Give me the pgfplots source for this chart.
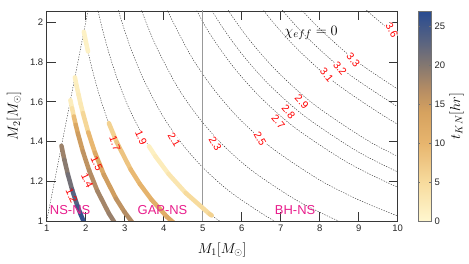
\documentclass[border=0pt]{standalone}
\usepackage{fontspec}
\setmainfont{Liberation Sans}
\usepackage{pgfplots}
\pgfplotsset{compat=1.18}
\pgfplotsset{/pgf/number format/assume math mode=true}
\definecolor{labred}{RGB}{255,0,0}
\definecolor{regpink}{RGB}{232,30,140}
\definecolor{axgray}{RGB}{55,55,55}
\newcommand{\clabels}[2]{%
  \begin{scope}[every node/.style={#1, font=\fontsize{10.5}{12}\selectfont, inner sep=0.4pt}]
  \node[rotate=-65] at (axis cs:1.64,1.126) {#2{1.2}};
  \node[rotate=-65] at (axis cs:2.04,1.205) {#2{1.4}};
  \node[rotate=-65] at (axis cs:2.28,1.289) {#2{1.5}};
  \node[rotate=-70] at (axis cs:2.75,1.39) {#2{1.7}};
  \node[rotate=-66] at (axis cs:3.42,1.42) {#2{1.9}};
  \node[rotate=-60] at (axis cs:4.27,1.41) {#2{2.1}};
  \node[rotate=-60] at (axis cs:5.32,1.39) {#2{2.3}};
  \node[rotate=-60] at (axis cs:6.47,1.415) {#2{2.5}};
  \node[rotate=-50] at (axis cs:6.94,1.50) {#2{2.7}};
  \node[rotate=-50] at (axis cs:7.20,1.55) {#2{2.8}};
  \node[rotate=-47] at (axis cs:7.54,1.60) {#2{2.9}};
  \node[rotate=-50] at (axis cs:8.18,1.734) {#2{3.1}};
  \node[rotate=-50] at (axis cs:8.52,1.768) {#2{3.2}};
  \node[rotate=-50] at (axis cs:8.86,1.81) {#2{3.3}};
  \node[rotate=-60] at (axis cs:9.85,1.961) {#2{3.6}};
  \end{scope}}
\begin{document}
\begin{tikzpicture}
\path[use as bounding box] (0,0) rectangle (469bp,264bp);
\begin{axis}[
  at={(46.7bp,43bp)}, anchor=south west,
  scale only axis, width=351bp, height=210bp,
  xmin=1, xmax=10, ymin=1, ymax=2.057,
  xtick={1,2,3,4,5,6,7,8,9,10}, ytick={1,1.2,1.4,1.6,1.8,2},
  tick align=inside, xtick pos=both, ytick pos=both, major tick length=9bp,
  axis line style={axgray, line width=0.6bp},
  every tick/.style={axgray, line width=0.6bp},
  tick label style={font=\fontsize{9.5}{11}\selectfont, text=black!85},
  xlabel={$M_1[M_\odot]$}, ylabel={$M_2[M_\odot]$},
  label style={font=\fontsize{14.5}{17}\selectfont},
  xlabel style={at={(axis description cs:0.5,-0.138)}, anchor=center},
  ylabel style={at={(axis description cs:-0.093,0.5)}, anchor=center},
  colormap={tkn}{[1pt] rgb255(0pt)=(255,247,207); rgb255(5pt)=(247,219,157); rgb255(10pt)=(231,181,110); rgb255(14pt)=(214,162,95); rgb255(17pt)=(180,140,100); rgb255(20pt)=(133,120,112); rgb255(23pt)=(90,100,128); rgb255(27pt)=(40,75,145)},
  point meta min=0, point meta max=27,
  colorbar,
  colorbar style={
    at={(parent axis.south east)}, anchor=south west, xshift=12.3bp,
    scale only axis, width=12.5bp, height=210bp,
    ytick={0,5,10,15,20,25},
    major tick length=2bp,
    axis line style={black!55, line width=0.5bp},
    every tick/.style={black!55, line width=0.5bp},
    tick label style={font=\fontsize{9.5}{11}\selectfont, text=black!85},
    ylabel={$t_{KN}[hr]$},
    ylabel style={at={(axis description cs:3.05,0.5)}, anchor=center, font=\fontsize{14}{16}\selectfont},
  },
  cdash/.style={black!80, line width=0.42bp, dash pattern=on 1.3bp off 1.3bp, smooth},
  band/.style={mesh, line width=4.5bp, line cap=round, point meta=explicit},
]
% diagonal m1 = m2
\addplot[cdash] coordinates {(1,1) (2.1,2.1)};
% chirp-mass contours
\addplot[cdash] coordinates {(1.3784,1.3784) (1.4534,1.3081) (1.5431,1.2345) (1.6527,1.1569) (1.7911,1.0746) (1.9725,0.9863)};
\addplot[cdash] coordinates {(1.6082,1.6082) (1.6957,1.5261) (1.8002,1.4402) (1.9281,1.3497) (2.0896,1.2538) (2.3013,1.1506) (2.5949,1.0380) (2.7909,0.9768)};
\addplot[cdash] coordinates {(1.7231,1.7231) (1.8168,1.6352) (1.9288,1.5431) (2.0659,1.4461) (2.2389,1.3433) (2.4656,1.2328) (2.7802,1.1121) (2.9902,1.0466) (3.2553,0.9766)};
\addplot[cdash] coordinates {(1.9528,1.9528) (2.0590,1.8532) (2.1860,1.7488) (2.3413,1.6389) (2.5374,1.5224) (2.7944,1.3972) (3.1509,1.2604) (3.3889,1.1861) (3.6893,1.1068) (4.0838,1.0210) (4.6309,0.9262)};
\addplot[cdash] coordinates {(2.1825,2.1825) (2.3013,2.0712) (2.4432,1.9545) (2.6168,1.8317) (2.8359,1.7015) (3.1231,1.5616) (3.5216,1.4087) (3.7876,1.3256) (4.1234,1.2370) (4.5642,1.1411) (5.1758,1.0352) (6.0982,0.9147)};
\addplot[cdash] coordinates {(2.5435,2.2892) (2.7004,2.1603) (2.8922,2.0245) (3.1344,1.8806) (3.4519,1.7259) (3.8923,1.5569) (4.1863,1.4652) (4.5574,1.3672) (5.0447,1.2612) (5.7206,1.1441) (6.7401,1.0110) (7.6659,0.9199)};
\addplot[cdash] coordinates {(2.9575,2.3660) (3.1677,2.2174) (3.4329,2.0597) (3.7806,1.8903) (4.2630,1.7052) (4.5850,1.6047) (4.9915,1.4974) (5.5251,1.3813) (6.2654,1.2531) (7.3820,1.1073) (8.3960,1.0075) (9.3326,0.9333)};
\addplot[cdash] coordinates {(3.4431,2.4102) (3.7314,2.2389) (4.1094,2.0547) (4.6337,1.8535) (4.9837,1.7443) (5.4255,1.6277) (6.0056,1.5014) (6.8102,1.3621) (8.0240,1.2036) (9.1261,1.0951) (10.1441,1.0144)};
\addplot[cdash] coordinates {(3.7185,2.6030) (4.0299,2.4180) (4.4382,2.2191) (5.0044,2.0018) (5.3824,1.8838) (5.8595,1.7579) (6.4860,1.6215) (7.3550,1.4710) (8.6659,1.2999) (9.8562,1.1827) (10.9557,1.0956)};
\addplot[cdash] coordinates {(4.1792,2.5075) (4.6025,2.3013) (5.1898,2.0759) (5.5817,1.9536) (6.0766,1.8230) (6.7262,1.6816) (7.6274,1.5255) (8.9868,1.3480) (10.2213,1.2265)};
\addplot[cdash] coordinates {(4.7669,2.3835) (5.3751,2.1501) (5.7811,2.0234) (6.2936,1.8881) (6.9664,1.7416) (7.8998,1.5800) (9.3078,1.3962) (10.5863,1.2703)};
\addplot[cdash] coordinates {(5.7458,2.2983) (6.1798,2.1629) (6.7276,2.0183) (7.4469,1.8617) (8.4446,1.6889) (9.9497,1.4925) (11.3164,1.3580)};
\addplot[cdash] coordinates {(5.9312,2.3725) (6.3791,2.2327) (6.9446,2.0834) (7.6871,1.9218) (8.7171,1.7434) (10.2707,1.5406)};
\addplot[cdash] coordinates {(6.1165,2.4466) (6.5785,2.3024) (7.1617,2.1485) (7.9273,1.9818) (8.9895,1.7979) (10.5916,1.5888)};
\addplot[cdash] coordinates {(7.8127,2.3438) (8.6480,2.1620) (9.8067,1.9614) (11.5545,1.7332)};
% vertical line at M1 = 5
\addplot[black!40, line width=0.8bp] coordinates {(5,1) (5,2.1)};
% white gaps in contour lines at labels
\clabels{fill=white}{\phantom}
% coloured bands (t_KN)
\addplot[band] table[meta=c] {
x y c
1.3784 1.3784 18
1.4534 1.3081 19
1.5431 1.2345 20.5
1.6527 1.1569 22
1.7911 1.0746 24.5
1.8750 1.0313 25.5
1.9430 1.0000 26.5
};
\addplot[band] table[meta=c] {
x y c
1.6082 1.6082 1.5
1.6501 1.5676 2
1.6957 1.5261 6
1.7455 1.4837 12
1.8002 1.4402 14
1.9281 1.3497 15.5
2.0896 1.2538 16.5
2.3013 1.1506 17.5
2.5949 1.0380 18.5
2.7909 0.9768 19
};
\addplot[band] table[meta=c] {
x y c
1.7231 1.7231 1.5
1.7680 1.6796 1.5
1.8168 1.6352 2
1.8701 1.5896 2.5
1.9288 1.5431 3
2.0659 1.4461 8
2.2389 1.3433 11.5
2.4656 1.2328 13.5
2.7802 1.1121 15.5
2.9902 1.0466 16.5
3.2553 0.9766 17.5
};
\addplot[band] table[meta=c] {
x y c
1.9528 1.9528 1
2.0037 1.9035 1
2.0590 1.8532 1
};
\addplot[band] table[meta=c] {
x y c
2.5948 1.4920 5.5
2.7944 1.3972 7
3.1509 1.2604 9
3.3889 1.1861 10
3.6893 1.1068 11
4.0838 1.0210 12
4.6309 0.9262 12.5
};
\addplot[band] table[meta=c] {
x y c
3.6212 1.3761 1
3.7876 1.3256 1.5
4.1234 1.2370 2.5
4.5642 1.1411 4
5.1758 1.0352 6
5.2300 1.0280 6.5
};
% contour labels
\clabels{text=labred}{\mbox}
% region labels
\begin{scope}[every node/.style={text=regpink, font=\fontsize{13}{15}\selectfont, inner sep=0pt}]
\node at (axis cs:1.60,1.054) {NS-NS};
\node at (axis cs:3.97,1.054) {GAP-NS};
\node at (axis cs:7.37,1.054) {BH-NS};
\end{scope}
\node[font=\fontsize{15}{17}\selectfont] at (axis cs:7.78,1.946) {$\chi_{eff}=0$};
\end{axis}
\end{tikzpicture}
\end{document}
